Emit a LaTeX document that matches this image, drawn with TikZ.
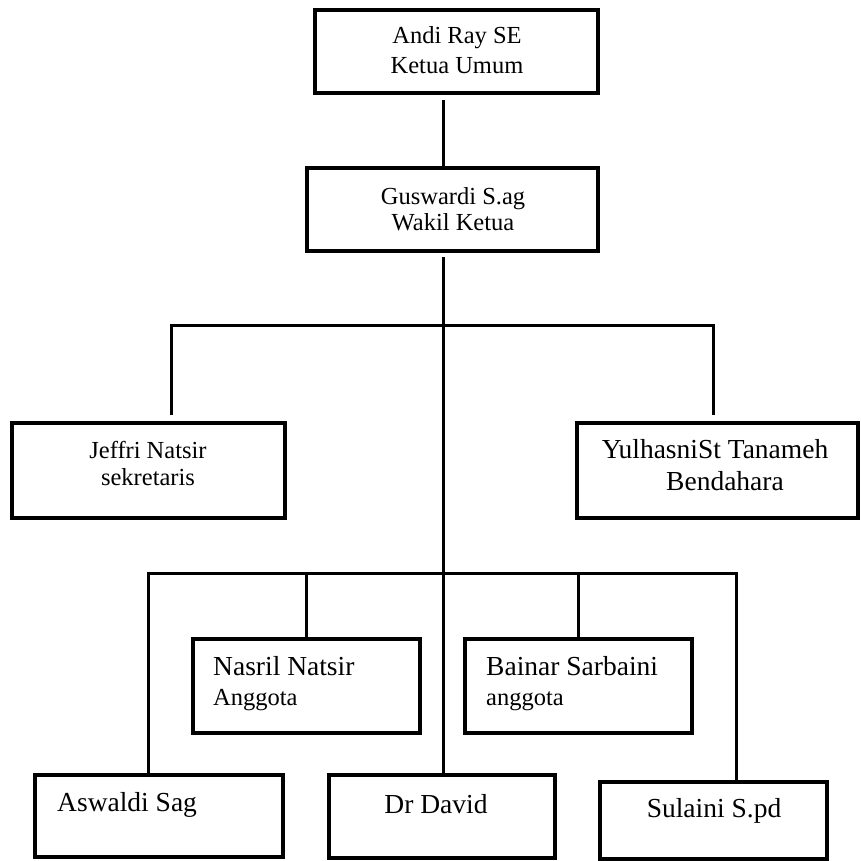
\documentclass[tikz,border=0pt]{standalone}
\usepackage{fontspec}
\setmainfont{Liberation Serif}
\begin{document}
\begin{tikzpicture}[x=1pt,y=-1pt,
  box/.style={draw, line width=3.5pt, inner sep=0pt, rectangle},
  link/.style={line width=3pt},
  big/.style={inner sep=0pt, font=\fontsize{27.5}{30}\selectfont},
  mid/.style={inner sep=0pt, font=\fontsize{24.5}{28}\selectfont}]
\useasboundingbox (0,0) rectangle (861,860);

% boxes
\node[box, minimum width=283pt, minimum height=83pt] (ketua) at (456.5,51.5) {};
\node[box, minimum width=291pt, minimum height=83pt] (wakil) at (452.5,209.5) {};
\node[box, minimum width=273pt, minimum height=95pt] (sekr) at (148.5,470.5) {};
\node[box, minimum width=281pt, minimum height=95pt] (bend) at (717.5,470.5) {};
\node[box, minimum width=227pt, minimum height=94pt] (nasril) at (306.5,686) {};
\node[box, minimum width=227pt, minimum height=94pt] (bainar) at (578.5,686) {};
\node[box, minimum width=248pt, minimum height=82pt] (aswaldi) at (159,816) {};
\node[box, minimum width=226pt, minimum height=83pt] (david) at (442,816.5) {};
\node[box, minimum width=227pt, minimum height=77pt] (sulaini) at (713.5,820.5) {};

% labels
\node[mid, anchor=base] (ketuaA) at (457,43) {Andi Ray SE};
\node[mid, anchor=base] (ketuaB) at (457,73) {Ketua Umum};
\node[mid, anchor=base] (wakilA) at (453,204) {Guswardi S.ag};
\node[mid, anchor=base] (wakilB) at (453,230) {Wakil Ketua};
\node[mid, anchor=base] (sekrA) at (148,458) {Jeffri Natsir};
\node[mid, anchor=base] (sekrB) at (148,485) {sekretaris};
\node[big, anchor=base] (bendA) at (715,458) {YulhasniSt Tanameh};
\node[big, anchor=base] (bendB) at (725,490) {Bendahara};
\node[big, anchor=base west] (nasrilA) at (213,675) {Nasril Natsir};
\node[mid, anchor=base west] (nasrilB) at (213,705) {Anggota};
\node[big, anchor=base west] (bainarA) at (486,675) {Bainar Sarbaini};
\node[mid, anchor=base west] (bainarB) at (486,705) {anggota};
\node[big, anchor=base west] (aswaldiA) at (57,811) {Aswaldi Sag};
\node[big, anchor=base] (davidA) at (436,813) {Dr David};
\node[big, anchor=base] (sulainiA) at (714,817) {Sulaini S.pd};

% junction points
\coordinate (top) at (443,100);
\coordinate (trunk) at (443,257);
\coordinate (ul) at (171,325);
\coordinate (ur) at (713,325);
\coordinate (ulend) at (171,415);
\coordinate (urend) at (713,415);
\coordinate (l1) at (148,573);
\coordinate (l2) at (306,573);
\coordinate (l4) at (578,573);
\coordinate (l5) at (736,573);

% connectors
\draw[link] (top) -- (top |- wakil.north);
\draw[link] (trunk) -- (trunk |- david.north);
\draw[link] (ulend) -- (ul) -- (ur) -- (urend);
\draw[link] (l1 |- aswaldi.north) -- (l1) -- (l5) -- (l5 |- sulaini.north);
\draw[link] (l2) -- (l2 |- nasril.north);
\draw[link] (l4) -- (l4 |- bainar.north);
\end{tikzpicture}
\end{document}
